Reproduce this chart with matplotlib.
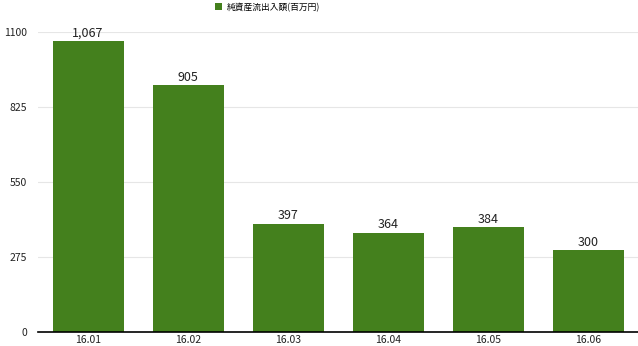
import matplotlib
matplotlib.use('Agg')
import matplotlib.pyplot as plt
import numpy as np

plt.rcParams['font.family'] = ['Noto Sans CJK JP', 'DejaVu Sans']

# データ
months = ['16.01', '16.02', '16.03', '16.04', '16.05', '16.06']
flows = [1067, 905, 397, 364, 384, 300]
yticks = [0, 275, 550, 825, 1100]
series_name = '純資産流出入額(百万円)'

color = '#44801d'

fig = plt.figure(figsize=(6.38, 3.46), dpi=100)
ax = fig.add_axes([38/638, 14/346, 600/638, 300/346])

x = np.arange(len(months))
bars = ax.bar(x, flows, 0.71, color=color, label=series_name, zorder=2)

for xi, v in zip(x, flows):
    ax.text(xi, v + 6, f'{v:,}', ha='center', va='bottom', fontsize=9, color='#222222')

ax.set_xlim(-0.5, len(months) - 0.5)
ax.set_ylim(0, 1100)
ax.set_yticks(yticks)
ax.set_yticklabels([str(t) for t in yticks])
ax.set_xticks(x, months)
ax.grid(axis='y', color='#e6e6e6', linewidth=0.8, zorder=0)
for s in ['top', 'right', 'left']:
    ax.spines[s].set_visible(False)
ax.spines['bottom'].set_color('#000000')
ax.spines['bottom'].set_linewidth(1.2)
ax.tick_params(axis='both', length=0, labelsize=7.5, colors='#222222')
ax.tick_params(axis='y', pad=8)
ax.tick_params(axis='x', pad=2)

fig.legend(handles=[bars], labels=[series_name], loc='upper left',
           bbox_to_anchor=(215/638, 1 - 2.5/346), frameon=False, fontsize=6.3,
           borderpad=0, borderaxespad=0,
           handlelength=0.8, handleheight=0.8, handletextpad=0.5)

fig.savefig('out.png', dpi=100)
